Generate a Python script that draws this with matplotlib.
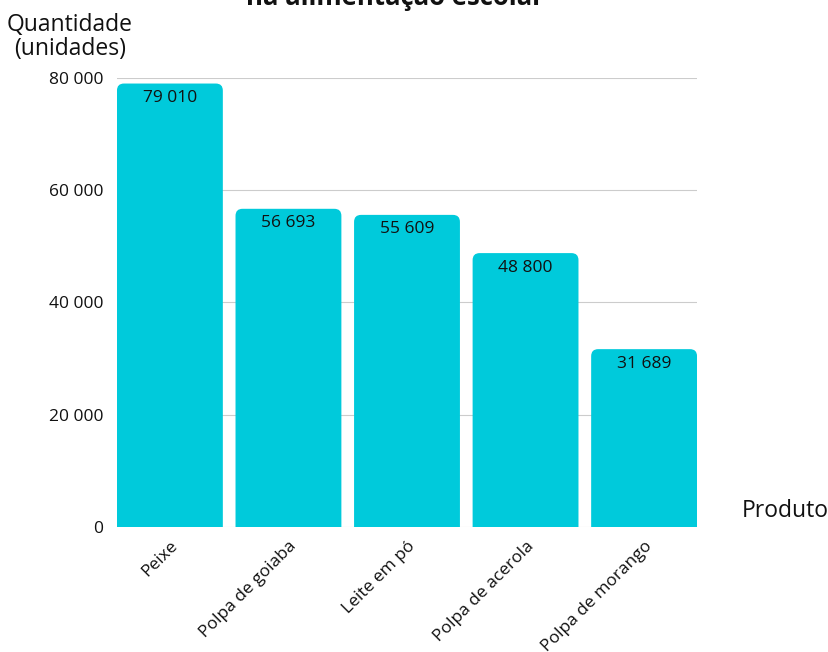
import matplotlib.pyplot as plt
from matplotlib.patches import FancyBboxPatch
from matplotlib.ticker import FuncFormatter

produtos = ['Peixe', 'Polpa de goiaba', 'Leite em pó', 'Polpa de acerola', 'Polpa de morango']
quantidades = [79010, 56693, 55609, 48800, 31689]
y_ticks = [0, 20000, 40000, 60000, 80000]

cor = '#00CADB'
plt.rcParams['font.family'] = ['Open Sans', 'DejaVu Sans']


def fmt(v, pos=None):
    return f'{int(v):,}'.replace(',', ' ')


fig = plt.figure(figsize=(8.29, 6.52), dpi=100)
ax = fig.add_axes([0.1411, 0.1917, 0.6997, 0.6887])

w = 0.893
bars = ax.bar(range(len(produtos)), quantidades, width=w, color='none')
ax.set_xlim(-w / 2, len(produtos) - 1 + w / 2)
ax.set_ylim(0, 80000)

# rounded top corners
x_px = (ax.get_xlim()[1] - ax.get_xlim()[0]) / (829 * 0.6997)
y_px = 80000 / (652 * 0.6887)
for b in bars:
    p = FancyBboxPatch((b.get_x(), -3000), b.get_width(), b.get_height() + 3000,
                       boxstyle=f'round,pad=0,rounding_size={7 * x_px}',
                       mutation_aspect=y_px / x_px, fc=cor, ec='none', zorder=2)
    ax.add_patch(p)
    b.set_visible(False)

for i, v in enumerate(quantidades):
    ax.annotate(fmt(v), (i, v), xytext=(0, -10.5), textcoords='offset points',
                ha='center', va='center', fontsize=12.5, color='#111111', zorder=3)

ax.set_yticks(y_ticks)
ax.yaxis.set_major_formatter(FuncFormatter(fmt))
ax.set_xticks(range(len(produtos)))
ax.set_xticklabels(produtos, rotation=45, ha='right', rotation_mode='anchor', fontsize=12.5)
ax.tick_params(axis='both', length=0, labelsize=12.5, colors='#111111')
ax.tick_params(axis='y', pad=10)
ax.tick_params(axis='x', pad=8)
ax.grid(axis='y', color='#cccccc', linewidth=0.8, zorder=0)
ax.set_axisbelow(True)
for s in ax.spines.values():
    s.set_visible(False)

fig.text(70 / 829, 1 - 37 / 652, 'Quantidade\n(unidades)', ha='center', va='center',
         fontsize=16.5, color='#111111', linespacing=1.05)
fig.text(785 / 829, 1 - 511 / 652, 'Produto', ha='center', va='center',
         fontsize=16.5, color='#111111')
fig.text(395 / 829, 1 - 5 / 652, 'na alimentação escolar', ha='center', va='baseline',
         fontsize=18.5, fontweight='bold', color='#111111')

fig.savefig('out.png', dpi=100)
